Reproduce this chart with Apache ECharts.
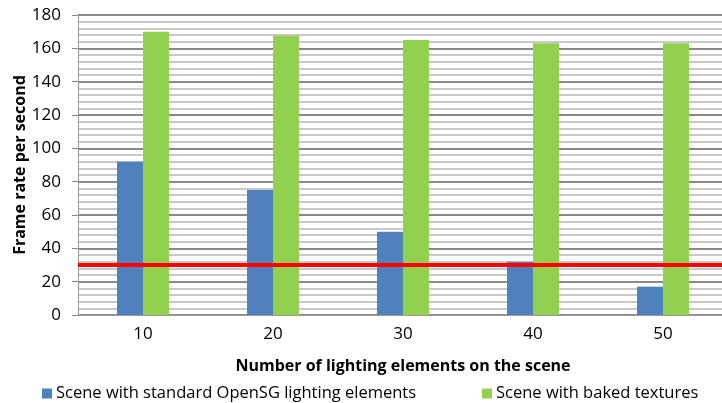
<!DOCTYPE html>
<html>
<head>
<meta charset="utf-8">
<script src="https://cdn.jsdelivr.net/npm/echarts@6/dist/echarts.min.js"></script>
<style>
  html, body { margin: 0; padding: 0; background: #fff; }
  #chart { width: 722px; height: 403px; }
</style>
</head>
<body>
<div id="chart"></div>
<script>
const categories = ['10', '20', '30', '40', '50']
const standardFps = [92, 75, 50, 32, 17]
const bakedFps = [170, 167.5, 165, 163, 163]
const threshold = 30
const seriesNames = ['Scene with standard OpenSG lighting elements', 'Scene with baked textures']

;(function () {
  const myChart = echarts.init(document.getElementById('chart'))
  const font = '"Open Sans", "Noto Sans", sans-serif'
  const option = {
    animation: false,
    textStyle: { fontFamily: font },
    grid: { left: 78, right: -6, top: 15, bottom: 88, containLabel: false, outerBoundsMode: 'none' },
    legend: [
      {
        data: [seriesNames[0]], left: 37, top: 380, icon: 'rect',
        itemWidth: 10, itemHeight: 10, itemGap: 5,
        textStyle: { color: '#000', fontSize: 16.5, fontFamily: font, padding: [0, 0, 0, -1] }
      },
      {
        data: [seriesNames[1]], left: 477, top: 380, icon: 'rect',
        itemWidth: 10, itemHeight: 10,
        textStyle: { color: '#000', fontSize: 16.5, fontFamily: font, padding: [0, 0, 0, -1] }
      }
    ],
    xAxis: {
      type: 'category',
      data: categories,
      name: 'Number of lighting elements on the scene',
      nameLocation: 'middle',
      nameGap: 43,
      nameMoveOverlap: false,
      nameTextStyle: { fontWeight: 'bold', fontSize: 16, color: '#000', fontFamily: font },
      axisLine: { lineStyle: { color: '#999', width: 1 } },
      axisTick: { show: false },
      axisLabel: { color: '#000', fontSize: 17, margin: 11 }
    },
    yAxis: {
      type: 'value',
      min: 0,
      max: 180,
      interval: 20,
      name: 'Frame rate per second',
      nameLocation: 'middle',
      nameGap: 50,
      nameMoveOverlap: false,
      nameTextStyle: { fontWeight: 'bold', fontSize: 16, color: '#000', fontFamily: font },
      axisLine: { show: true, lineStyle: { color: '#999' } },
      axisTick: { show: true, length: 6, lineStyle: { color: '#888' } },
      axisLabel: { color: '#000', fontSize: 17, margin: 17 },
      splitLine: { lineStyle: { color: '#8a8a8a', width: 2 } },
      minorTick: { show: false, splitNumber: 5 },
      minorSplitLine: { show: true, lineStyle: { color: '#b8b8b8', width: 1.5 } }
    },
    series: [
      {
        name: seriesNames[0],
        type: 'bar',
        data: standardFps,
        barWidth: 26,
        barGap: '0%',
        itemStyle: { color: '#4f81bd' },
        z: 2
      },
      {
        name: seriesNames[1],
        type: 'bar',
        data: bakedFps,
        barWidth: 26,
        itemStyle: { color: '#92d050' },
        z: 2,
        markLine: {
          silent: true,
          symbol: 'none',
          label: { show: false },
          lineStyle: { color: '#ff0000', width: 4, type: 'solid' },
          data: [{ yAxis: threshold }]
        }
      }
    ]
  }

  myChart.setOption(option)
  window.addEventListener('resize', function () {
    myChart.resize()
  })
})()
</script>
</body>
</html>
